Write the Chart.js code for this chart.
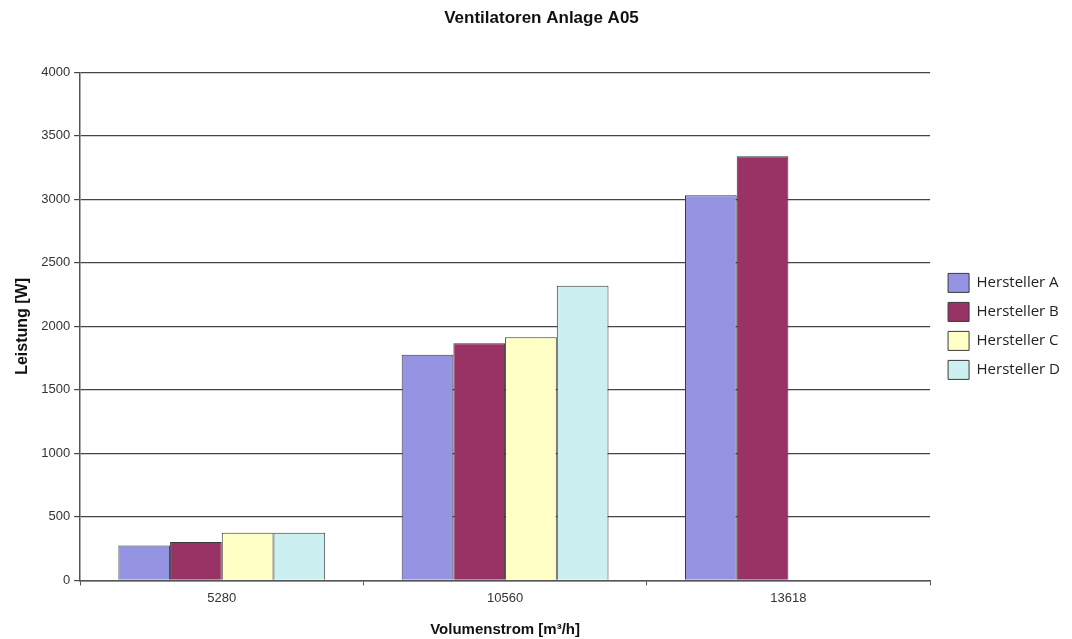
<!DOCTYPE html>
<html>
<head>
<meta charset="utf-8">
<script src="https://cdn.jsdelivr.net/npm/chart.js@4/dist/chart.umd.min.js"></script>
<style>
  html, body { margin: 0; padding: 0; background: #fff; }
  #wrap { width: 1072px; height: 639px; }
</style>
</head>
<body>
<div id="wrap"><canvas id="chart" width="1072" height="639"></canvas></div>
<script>
const categories = ["5280", "10560", "13618"];
const herstellerA = [275, 1776, 3033];
const herstellerB = [303, 1868, 3340];
const herstellerC = [375, 1915, null];
const herstellerD = [375, 2321, null];
const yTicks = [0, 500, 1000, 1500, 2000, 2500, 3000, 3500, 4000];

const series = [
  { label: "Hersteller A", data: herstellerA, color: "#9494e2" },
  { label: "Hersteller B", data: herstellerB, color: "#993366" },
  { label: "Hersteller C", data: herstellerC, color: "#ffffc6" },
  { label: "Hersteller D", data: herstellerD, color: "#ccf0f2" }
];

const arial = "'Liberation Sans', Arial, sans-serif";

new Chart(document.getElementById("chart"), {
  type: "bar",
  data: {
    labels: categories,
    datasets: series.map(s => ({
      label: s.label,
      data: s.data,
      backgroundColor: s.color,
      borderColor: "#3a3a3a",
      borderWidth: 1,
      barPercentage: 1,
      categoryPercentage: 0.73
    }))
  },
  options: {
    responsive: false,
    animation: false,
    layout: { padding: { left: 13, right: 2, top: 6, bottom: 0 } },
    plugins: {
      title: {
        display: true,
        text: "Ventilatoren Anlage A05",
        font: { family: arial, size: 17, weight: "bold" },
        color: "#111",
        padding: { top: 2, bottom: 44 }
      },
      legend: {
        position: "right",
        align: "center",
        fullSize: false,
        labels: {
          boxWidth: 21,
          boxHeight: 19,
          padding: 10,
          color: "#222",
          font: { family: "'Open Sans', 'Noto Sans', sans-serif", size: 15 }
        }
      },
      tooltip: { enabled: false }
    },
    scales: {
      x: {
        grid: {
          offset: true,
          drawOnChartArea: false,
          drawTicks: true,
          tickLength: 5,
          color: "#555"
        },
        border: { color: "#555", width: 1.5 },
        ticks: { color: "#333", font: { family: arial, size: 13 }, padding: 5 },
        title: {
          display: true,
          text: "Volumenstrom [m³/h]",
          color: "#111",
          font: { family: arial, size: 15, weight: "bold" },
          padding: { top: 10, bottom: 0 }
        }
      },
      y: {
        min: 0,
        max: 4000,
        afterBuildTicks: axis => { axis.ticks = yTicks.map(v => ({ value: v })); },
        grid: { color: "#444", lineWidth: 1.2, tickLength: 6 },
        border: { color: "#555", width: 1.5 },
        ticks: { color: "#333", font: { family: arial, size: 13 }, padding: 4, callback: v => String(v) },
        title: {
          display: true,
          text: "Leistung [W]",
          color: "#111",
          font: { family: arial, size: 16, weight: "bold" },
          padding: { top: 0, bottom: 5 }
        }
      },
      // empty spacer between plot area and legend
      gap: {
        position: "right",
        grid: { display: false, drawTicks: false },
        border: { display: false },
        ticks: { display: false },
        afterFit: s => { s.width = 8; }
      }
    }
  }
});
</script>
</body>
</html>
